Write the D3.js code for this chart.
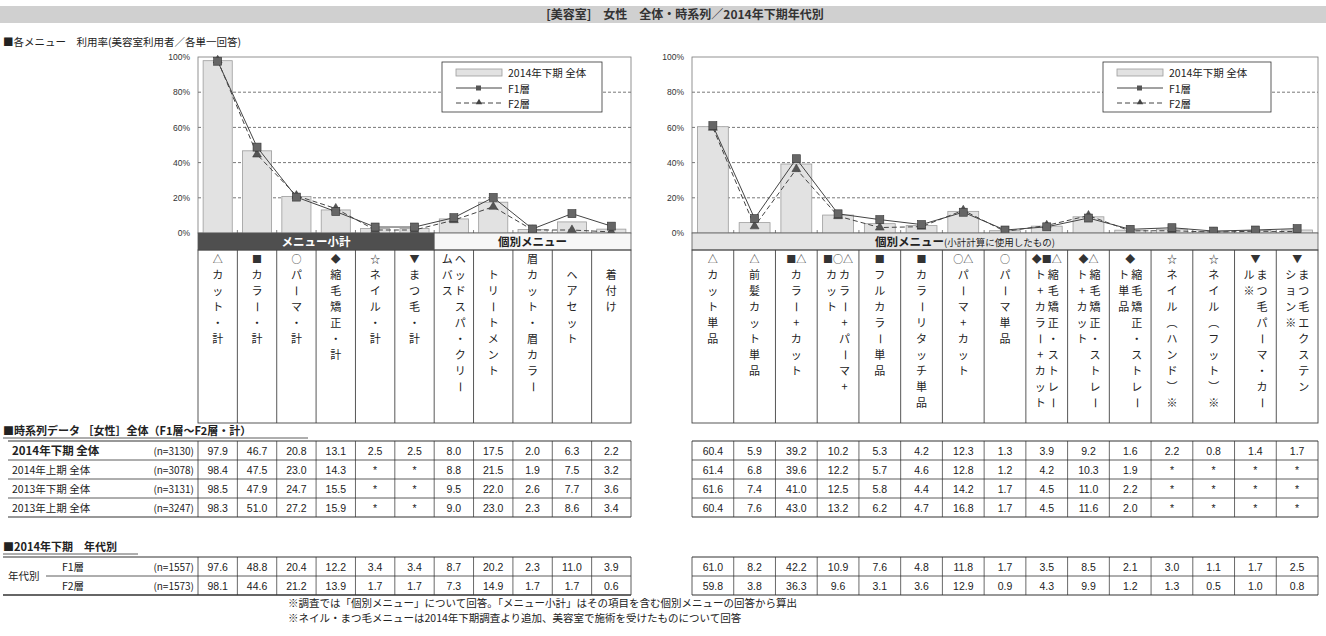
<!DOCTYPE html>
<html>
<head>
<meta charset="utf-8">
<script src="https://cdn.jsdelivr.net/npm/d3@7"></script>
<style>
  body { margin: 0; background: #fff; }
  svg text { font-family: "Noto Sans CJK JP", "Noto Sans", sans-serif; fill: #222; }
  svg text.num { font-family: "Liberation Sans Narrow", "Liberation Sans", Arial, sans-serif; }
</style>
</head>
<body>
<div id="chart"></div>
<script>
const width = 1326, height = 636;

// ---- data ----
const leftSymbols = ["△", "■", "○", "◆", "☆", "▼", "", "", "", "", ""];
const leftLabels = [["カット・計"], ["カラー・計"], ["パーマ・計"], ["縮毛矯正・計"], ["ネイル・計"], ["まつ毛・計"],
  ["ヘッドスパ・クリー", "ムバス"], ["トリートメント"], ["眉カット・眉カラー"], ["ヘアセット"], ["着付け"]];
const rightSymbols = ["△", "△", "■△", "■○△", "■", "■", "○△", "○", "◆■△", "◆△", "◆", "☆", "☆", "▼", "▼"];
const rightLabels = [["カット単品"], ["前髪カット単品"], ["カラー+カット"], ["カラー+パーマ+", "カット"], ["フルカラー単品"],
  ["カラーリタッチ単品"], ["パーマ+カット"], ["パーマ単品"], ["縮毛矯正・ストレー", "ト+カラー+カット"],
  ["縮毛矯正・ストレー", "ト+カット"], ["縮毛矯正・ストレー", "ト単品"], ["ネイル(ハンド)※"], ["ネイル(フット)※"],
  ["まつ毛パーマ・カー", "ル※"], ["まつ毛エクステン", "ション※"]];

const periods = ["2014年下期 全体", "2014年上期 全体", "2013年下期 全体", "2013年上期 全体"];
const periodN = [3130, 3078, 3131, 3247];
const ages = ["F1層", "F2層"];
const ageN = [1557, 1573];

// left block (menu subtotal + individual menu)
const left2014H2 = [97.9, 46.7, 20.8, 13.1, 2.5, 2.5, 8.0, 17.5, 2.0, 6.3, 2.2];
const left2014H1 = [98.4, 47.5, 23.0, 14.3, null, null, 8.8, 21.5, 1.9, 7.5, 3.2];
const left2013H2 = [98.5, 47.9, 24.7, 15.5, null, null, 9.5, 22.0, 2.6, 7.7, 3.6];
const left2013H1 = [98.3, 51.0, 27.2, 15.9, null, null, 9.0, 23.0, 2.3, 8.6, 3.4];
const leftF1 = [97.6, 48.8, 20.4, 12.2, 3.4, 3.4, 8.7, 20.2, 2.3, 11.0, 3.9];
const leftF2 = [98.1, 44.6, 21.2, 13.9, 1.7, 1.7, 7.3, 14.9, 1.7, 1.7, 0.6];

// right block (individual menus used for subtotal)
const right2014H2 = [60.4, 5.9, 39.2, 10.2, 5.3, 4.2, 12.3, 1.3, 3.9, 9.2, 1.6, 2.2, 0.8, 1.4, 1.7];
const right2014H1 = [61.4, 6.8, 39.6, 12.2, 5.7, 4.6, 12.8, 1.2, 4.2, 10.3, 1.9, null, null, null, null];
const right2013H2 = [61.6, 7.4, 41.0, 12.5, 5.8, 4.4, 14.2, 1.7, 4.5, 11.0, 2.2, null, null, null, null];
const right2013H1 = [60.4, 7.6, 43.0, 13.2, 6.2, 4.7, 16.8, 1.7, 4.5, 11.6, 2.0, null, null, null, null];
const rightF1 = [61.0, 8.2, 42.2, 10.9, 7.6, 4.8, 11.8, 1.7, 3.5, 8.5, 2.1, 3.0, 1.1, 1.7, 2.5];
const rightF2 = [59.8, 3.8, 36.3, 9.6, 3.1, 3.6, 12.9, 0.9, 4.3, 9.9, 1.2, 1.3, 0.5, 1.0, 0.8];

const yTicks = [0, 20, 40, 60, 80, 100];

// ---- layout ----
const plotTop = 57, plotBottom = 233;
const bandH = 17, headBottom = 423;
const row1Top = 441, row2Top = 557, rowH = 19;

const svg = d3.select('#chart').append('svg')
  .attr('width', width).attr('height', height);

// title band
svg.append('rect').attr('x', 0).attr('y', 6).attr('width', width).attr('height', 17).attr('fill', '#d0d0d0');
svg.append('text').attr('x', 685).attr('y', 19).attr('text-anchor', 'middle')
  .style('font-size', '12px').style('font-weight', 'bold').style('fill', '#333')
  .text('[美容室]　女性　全体・時系列／2014年下期年代別');
svg.append('text').attr('x', 3).attr('y', 46).style('font-size', '10.5px')
  .text('■各メニュー　利用率(美容室利用者／各単一回答)');

const y = d3.scaleLinear().domain([0, 100]).range([plotBottom, plotTop]);

const vertForms = { '(': '︵', ')': '︶' };

let panel = (cfg) => {
  const n = cfg.bars.length;
  const cell = d3.scaleLinear().domain([0, n]).range([cfg.x0, cfg.x1]);
  const x = d3.scaleBand().domain(d3.range(n)).range([cfg.x0, cfg.x1]).paddingInner(0.26).paddingOuter(0.13);
  const cx = i => x(i) + x.bandwidth() / 2;
  const g = svg.append('g');

  // grid + frame
  g.selectAll('.grid').data(yTicks.filter(d => d > 0 && d < 100)).join('line')
    .attr('x1', cfg.x0).attr('x2', cfg.x1).attr('y1', d => y(d)).attr('y2', d => y(d))
    .attr('stroke', '#555').attr('stroke-width', 0.8).attr('stroke-dasharray', '3,2');
  g.append('rect').attr('x', cfg.x0).attr('y', plotTop).attr('width', cfg.x1 - cfg.x0).attr('height', plotBottom - plotTop)
    .attr('fill', 'none').attr('stroke', '#777').attr('stroke-width', 0.8);

  const axis = g.append('g').attr('transform', `translate(${cfg.x0 - 5},0)`)
    .call(d3.axisLeft(y).tickValues(yTicks).tickFormat(d => d + '%').tickSize(0));
  axis.select('.domain').remove();
  axis.selectAll('text').attr('class', 'num').style('font-size', '8.5px').style('fill', '#333');

  // bars
  g.selectAll('.bar').data(cfg.bars).join('rect')
    .attr('x', (d, i) => x(i)).attr('width', x.bandwidth())
    .attr('y', d => y(d)).attr('height', d => y(0) - y(d))
    .attr('fill', '#e2e2e2').attr('stroke', '#9c9c9c').attr('stroke-width', 0.8);

  // small ticks at category boundaries
  g.selectAll('.tk').data(d3.range(1, n)).join('line')
    .attr('x1', d => cell(d)).attr('x2', d => cell(d)).attr('y1', plotBottom).attr('y2', plotBottom - 3)
    .attr('stroke', '#666').attr('stroke-width', 0.8);

  // lines
  const line = d3.line().x((d, i) => cx(i)).y(d => y(d));
  g.append('path').datum(cfg.f2).attr('d', line).attr('fill', 'none')
    .attr('stroke', '#444').attr('stroke-width', 1).attr('stroke-dasharray', '5,3');
  g.append('path').datum(cfg.f1).attr('d', line).attr('fill', 'none')
    .attr('stroke', '#444').attr('stroke-width', 1);
  const tri = d3.symbol().type(d3.symbolTriangle).size(34);
  g.selectAll('.m2').data(cfg.f2).join('path')
    .attr('d', tri).attr('transform', (d, i) => `translate(${cx(i)},${y(d)})`)
    .attr('fill', '#555').attr('stroke', '#333').attr('stroke-width', 0.5);
  g.selectAll('.m1').data(cfg.f1).join('rect')
    .attr('x', (d, i) => cx(i) - 4).attr('y', d => y(d) - 4).attr('width', 8).attr('height', 8)
    .attr('fill', '#666').attr('stroke', '#333').attr('stroke-width', 0.6);

  // legend
  const lg = g.append('g').attr('transform', `translate(${cfg.legendX},62)`);
  lg.append('rect').attr('width', cfg.legendW).attr('height', 50).attr('fill', '#fff').attr('stroke', '#333').attr('stroke-width', 0.8);
  lg.append('rect').attr('x', 14).attr('y', 7).attr('width', 46).attr('height', 7)
    .attr('fill', '#e2e2e2').attr('stroke', '#9c9c9c').attr('stroke-width', 0.8);
  lg.append('line').attr('x1', 14).attr('x2', 60).attr('y1', 26).attr('y2', 26).attr('stroke', '#444');
  lg.append('rect').attr('x', 34).attr('y', 23.5).attr('width', 5).attr('height', 5).attr('fill', '#555');
  lg.append('line').attr('x1', 14).attr('x2', 60).attr('y1', 41).attr('y2', 41).attr('stroke', '#444').attr('stroke-dasharray', '5,3');
  lg.append('path').attr('d', d3.symbol().type(d3.symbolTriangle).size(18)).attr('transform', 'translate(37,40.5)').attr('fill', '#444');
  ['2014年下期 全体', 'F1層', 'F2層'].forEach((t, i) => {
    lg.append('text').attr('x', 66).attr('y', 15 + i * 15.5).style('font-size', '10.5px').text(t);
  });

  // header band
  cfg.bands.forEach(b => {
    const bx0 = cell(b.from), bx1 = cell(b.to);
    g.append('rect').attr('x', bx0).attr('y', plotBottom).attr('width', bx1 - bx0).attr('height', bandH)
      .attr('fill', b.dark ? '#4f4f4f' : b.fill).attr('stroke', '#555').attr('stroke-width', 0.8);
    const tt = g.append('text').attr('x', (bx0 + bx1) / 2 + (b.sub ? -40 : 0)).attr('y', plotBottom + 13)
      .attr('text-anchor', 'middle').style('font-size', '11.5px').style('font-weight', 'bold')
      .style('fill', b.dark ? '#fff' : '#222').text(b.text);
    if (b.sub) tt.append('tspan').style('font-size', '9.5px').style('font-weight', 'normal').text(b.sub);
  });

  // header cells with vertical labels
  g.append('rect').attr('x', cfg.x0).attr('y', plotBottom + bandH).attr('width', cfg.x1 - cfg.x0)
    .attr('height', headBottom - plotBottom - bandH).attr('fill', 'none').attr('stroke', '#444').attr('stroke-width', 0.9);
  g.selectAll('.hv').data(d3.range(1, n)).join('line')
    .attr('x1', d => cell(d)).attr('x2', d => cell(d)).attr('y1', plotBottom + bandH).attr('y2', headBottom)
    .attr('stroke', '#444').attr('stroke-width', 0.9);
  cfg.labels.forEach((cols, i) => {
    const mid = (cell(i) + cell(i + 1)) / 2;
    const sym = cfg.symbols[i];
    const maxLen = d3.max(cols, c => c.length);
    const startRow = (sym || maxLen < 9) ? 1 : 0;
    if (sym) {
      g.append('text').attr('x', mid).attr('y', 263).attr('text-anchor', 'middle')
        .style('font-size', '10px').style('fill', '#333').text(sym);
    }
    cols.forEach((col, k) => {
      const colX = mid + (cols.length === 1 ? 0 : (k === 0 ? 6.5 : -6.5));
      Array.from(col).forEach((ch, r) => {
        const cy = 259 + (startRow + r) * 16;
        const t = g.append('text').attr('x', colX).attr('y', cy + 4).attr('text-anchor', 'middle')
          .style('font-size', '11px').text(vertForms[ch] || ch);
        if (ch === 'ー') t.attr('transform', `rotate(90,${colX},${cy})`);
      });
    });
  });

  // data tables
  const tableRows = (top, rows) => {
    rows.forEach((vals, r) => {
      vals.forEach((v, i) => {
        g.append('text').attr('class', 'num').attr('x', (cell(i) + cell(i + 1)) / 2).attr('y', top + r * rowH + 13.5)
          .attr('text-anchor', 'middle').style('font-size', '10.5px').text(v === null ? '*' : v.toFixed(1));
      });
    });
    g.selectAll(null).data(d3.range(1, n)).join('line')
      .attr('x1', d => cell(d)).attr('x2', d => cell(d)).attr('y1', top).attr('y2', top + rows.length * rowH)
      .attr('stroke', '#444').attr('stroke-width', 0.8);
  };
  tableRows(row1Top, cfg.period);
  tableRows(row2Top, cfg.age);
  return cell;
};

panel({
  x0: 198, x1: 631, bars: left2014H2, f1: leftF1, f2: leftF2,
  legendX: 442, legendW: 160, symbols: leftSymbols, labels: leftLabels,
  bands: [{ from: 0, to: 6, dark: true, text: 'メニュー小計' }, { from: 6, to: 11, fill: '#f7f7f7', text: '個別メニュー' }],
  period: [left2014H2, left2014H1, left2013H2, left2013H1], age: [leftF1, leftF2]
});
panel({
  x0: 692, x1: 1318, bars: right2014H2, f1: rightF1, f2: rightF2,
  legendX: 1103, legendW: 168, symbols: rightSymbols, labels: rightLabels,
  bands: [{ from: 0, to: 15, fill: '#e4e4e4', text: '個別メニュー', sub: '(小計計算に使用したもの)' }],
  period: [right2014H2, right2014H1, right2013H2, right2013H1], age: [rightF1, rightF2]
});

// section titles
const section = (yy, txt, w) => {
  svg.append('text').attr('x', 3).attr('y', yy).style('font-size', '11px').style('font-weight', 'bold').text(txt);
  svg.append('line').attr('x1', 3).attr('x2', 3 + w).attr('y1', yy + 3).attr('y2', yy + 3).attr('stroke', '#333').attr('stroke-width', 0.8);
};
section(435, '■時系列データ ［女性］全体（F1層～F2層・計）', 305);
section(551, '■2014年下期　年代別', 135);

// table frames
const hLine = (x1, x2, yy, w) => svg.append('line').attr('x1', x1).attr('x2', x2).attr('y1', yy).attr('y2', yy)
  .attr('stroke', '#333').attr('stroke-width', w || 0.8);
const vLine = (xx, y1, y2) => svg.append('line').attr('x1', xx).attr('x2', xx).attr('y1', y1).attr('y2', y2)
  .attr('stroke', '#333').attr('stroke-width', 0.8);

d3.range(periods.length + 1).forEach(r => hLine(8, 631, row1Top + r * rowH, r === 0 || r === periods.length ? 1.2 : 0.8));
vLine(198, row1Top, row1Top + periods.length * rowH);
vLine(631, row1Top, row1Top + periods.length * rowH);
d3.range(periods.length + 1).forEach(r => hLine(692, 1318, row1Top + r * rowH, r === 0 || r === periods.length ? 1.2 : 0.8));
vLine(692, row1Top, row1Top + periods.length * rowH);
vLine(1318, row1Top, row1Top + periods.length * rowH);

periods.forEach((p, r) => {
  svg.append('text').attr('x', 12).attr('y', row1Top + r * rowH + 14)
    .style('font-size', r === 0 ? '11.5px' : '10.5px').style('font-weight', r === 0 ? 'bold' : 'normal').text(p);
  svg.append('text').attr('x', 194).attr('y', row1Top + r * rowH + 13.5).attr('text-anchor', 'end')
    .style('font-size', '10px').text(`(n=${periodN[r]})`);
});

hLine(3, 631, row2Top, 1.2);
hLine(46, 631, row2Top + rowH);
hLine(3, 631, row2Top + 2 * rowH, 1.5);
vLine(198, row2Top, row2Top + 2 * rowH);
vLine(631, row2Top, row2Top + 2 * rowH);
hLine(692, 1318, row2Top, 1.2);
hLine(692, 1318, row2Top + rowH);
hLine(692, 1318, row2Top + 2 * rowH, 1.2);
vLine(692, row2Top, row2Top + 2 * rowH);
vLine(1318, row2Top, row2Top + 2 * rowH);
svg.append('text').attr('x', 8).attr('y', row2Top + rowH + 4).style('font-size', '10.5px').text('年代別');
ages.forEach((a, r) => {
  svg.append('text').attr('x', 62).attr('y', row2Top + r * rowH + 13.5).style('font-size', '10.5px').text(a);
  svg.append('text').attr('x', 194).attr('y', row2Top + r * rowH + 13.5).attr('text-anchor', 'end')
    .style('font-size', '10px').text(`(n=${ageN[r]})`);
});

// notes
svg.append('text').attr('x', 288).attr('y', 607).style('font-size', '10.5px')
  .text('※調査では「個別メニュー」について回答。「メニュー小計」はその項目を含む個別メニューの回答から算出');
svg.append('text').attr('x', 288).attr('y', 622).style('font-size', '10.5px')
  .text('※ネイル・まつ毛メニューは2014年下期調査より追加、美容室で施術を受けたものについて回答');
</script>
</body>
</html>
